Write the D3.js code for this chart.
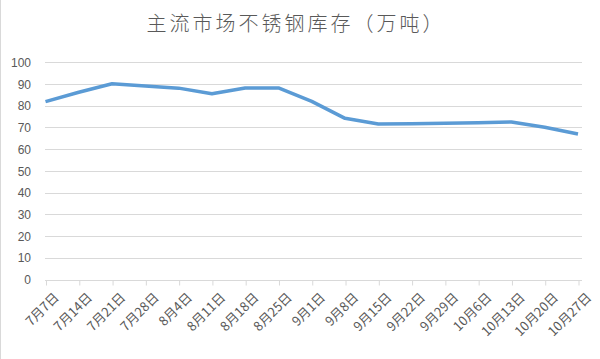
<!DOCTYPE html>
<html><head><meta charset="utf-8">
<script src="https://cdn.jsdelivr.net/npm/d3@7"></script>
<style>
html,body{margin:0;padding:0;background:#fff;}
svg{display:block;}
</style></head>
<body>
<script>
const title = "主流市场不锈钢库存（万吨）";
const categories = ["7月7日","7月14日","7月21日","7月28日","8月4日","8月11日","8月18日","8月25日","9月1日","9月8日","9月15日","9月22日","9月29日","10月6日","10月13日","10月20日","10月27日"];
const values = [81.9, 86.2, 90.1, 89.1, 88.1, 85.5, 88.2, 88.2, 82.0, 74.2, 71.6, 71.7, 71.9, 72.2, 72.5, 70.1, 67.0];
const yTicks = [0,10,20,30,40,50,60,70,80,90,100];

const W = 600, H = 359;
const svg = d3.select("body").append("svg").attr("width", W).attr("height", H);
svg.append("rect").attr("width", W).attr("height", H).attr("fill", "#fff");
svg.append("line").attr("x1",0.5).attr("x2",0.5).attr("y1",0).attr("y2",H).attr("stroke","#D9D9D9");

const x = d3.scalePoint().domain(categories).range([45.5, 578]);
const y = d3.scaleLinear().domain([0, 100]).range([279.5, 62.3]);
const gridRight = 582;

svg.append("text").attr("x", 296).attr("y", 31).attr("text-anchor","middle")
  .attr("font-family","'Noto Sans CJK SC', sans-serif").attr("font-size",20).attr("font-weight",300)
  .attr("letter-spacing","3px").attr("fill","#595959").text(title);

// gridlines
svg.append("g").selectAll("line").data(yTicks.filter(d=>d>0)).join("line")
  .attr("x1", 45).attr("x2", gridRight)
  .attr("y1", d=>Math.round(y(d))+0.5).attr("y2", d=>Math.round(y(d))+0.5)
  .attr("stroke","#D9D9D9").attr("stroke-width",1);

// y axis labels
const yAxis = d3.axisLeft(y).tickValues(yTicks).tickSize(0).tickPadding(0);
const gy = svg.append("g").attr("transform","translate(31,0)").call(yAxis);
gy.select(".domain").remove();
gy.selectAll("text").attr("font-family","'Liberation Sans', Arial, sans-serif").attr("font-size",12).attr("fill","#595959").attr("dy","0.35em");

// x axis
const xAxis = d3.axisBottom(x).tickSize(5).tickPadding(0);
const gx = svg.append("g").attr("transform", `translate(0,${Math.round(y(0))+0.5})`).call(xAxis);
gx.select(".domain").attr("d", `M45,0H${gridRight}`).attr("stroke","#D9D9D9");
gx.selectAll(".tick line").attr("stroke","#D9D9D9").attr("transform","translate(0.5,0)");
gx.selectAll(".tick text")
  .attr("font-family","'Noto Sans CJK SC', sans-serif").attr("font-size",13).attr("fill","#595959")
  .attr("text-anchor","end").attr("dy","0.35em")
  .attr("transform","translate(7,11) rotate(-45)");

// line
const line = d3.line().x((d,i)=>x(categories[i])).y(d=>y(d));
svg.append("path").datum(values).attr("d", line).attr("fill","none")
  .attr("stroke","#5B9BD5").attr("stroke-width",3.5).attr("stroke-linejoin","round").attr("stroke-linecap","butt");
</script>
</body></html>
